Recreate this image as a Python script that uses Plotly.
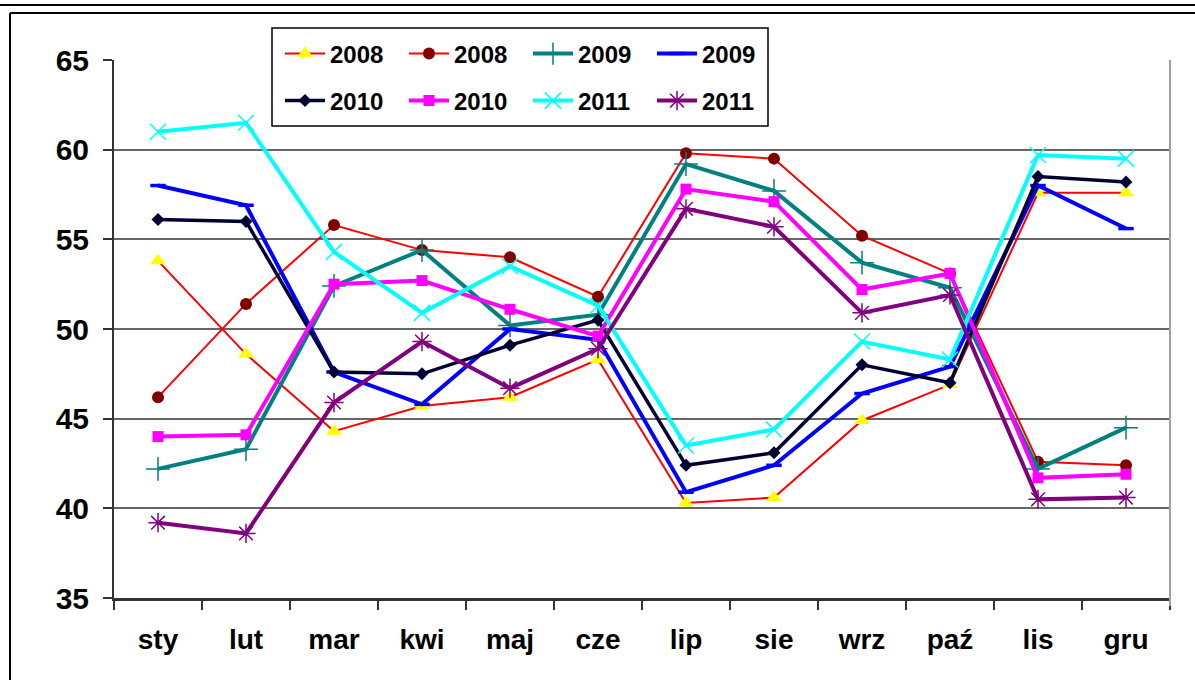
import plotly.graph_objects as go

months = ["sty", "lut", "mar", "kwi", "maj", "cze", "lip", "sie", "wrz", "paź", "lis", "gru"]

s2008_tri = [53.8, 48.6, 44.3, 45.7, 46.2, 48.3, 40.3, 40.6, 44.9, 46.9, 57.6, 57.6]
s2008_dot = [46.2, 51.4, 55.8, 54.4, 54.0, 51.8, 59.8, 59.5, 55.2, 53.1, 42.6, 42.4]
s2009_plus = [42.2, 43.3, 52.4, 54.4, 50.2, 50.8, 59.2, 57.7, 53.7, 52.3, 42.2, 44.5]
s2009_dash = [58.0, 56.9, 47.6, 45.8, 50.0, 49.4, 40.9, 42.4, 46.4, 47.9, 58.0, 55.6]
s2010_dia = [56.1, 56.0, 47.6, 47.5, 49.1, 50.5, 42.4, 43.1, 48.0, 47.0, 58.5, 58.2]
s2010_sq = [44.0, 44.1, 52.5, 52.7, 51.1, 49.6, 57.8, 57.1, 52.2, 53.1, 41.7, 41.9]
s2011_x = [61.0, 61.5, 54.3, 50.9, 53.5, 51.3, 43.5, 44.4, 49.3, 48.3, 59.7, 59.5]
s2011_ast = [39.2, 38.6, 45.9, 49.3, 46.7, 48.9, 56.7, 55.7, 50.9, 51.9, 40.5, 40.6]

labels = ["2008", "2008", "2009", "2009", "2010", "2010", "2011", "2011"]

series = [
    dict(y=s2008_tri, line=dict(color="#FF0000", width=2),
         marker=dict(symbol="triangle-up", color="#FFFF00", size=14, line=dict(width=0))),
    dict(y=s2008_dot, line=dict(color="#FF0000", width=2),
         marker=dict(symbol="circle", color="#800000", size=12, line=dict(width=0))),
    dict(y=s2009_plus, line=dict(color="#008080", width=4),
         marker=dict(symbol="cross-thin-open", color="#008080", size=17, line=dict(width=1.5, color="#008080"))),
    dict(y=s2009_dash, line=dict(color="#0000FF", width=4),
         marker=dict(symbol="line-ew-open", color="#0000FF", size=11, line=dict(width=3.5, color="#0000FF"))),
    dict(y=s2010_dia, line=dict(color="#000033", width=3.5),
         marker=dict(symbol="diamond", color="#000033", size=10, line=dict(width=0))),
    dict(y=s2010_sq, line=dict(color="#FF00FF", width=4),
         marker=dict(symbol="square", color="#FF00FF", size=11, line=dict(width=0))),
    dict(y=s2011_x, line=dict(color="#00FFFF", width=4),
         marker=dict(symbol="x-thin-open", color="#00FFFF", size=16, line=dict(width=1.5, color="#00FFFF"))),
    dict(y=s2011_ast, line=dict(color="#800080", width=4),
         marker=dict(symbol="asterisk-open", color="#800080", size=16, line=dict(width=1.5, color="#800080"))),
]

FONT = "Liberation Sans, Arial, sans-serif"

fig = go.Figure()
for i, (lab, s) in enumerate(zip(labels, series)):
    fig.add_trace(go.Scatter(
        x=months, y=s["y"], name=lab, mode="lines+markers",
        line=s["line"], marker=s["marker"],
        legend="legend" if i < 4 else "legend2",
    ))

W, H = 1195, 680
L, R, T, B = 114, 25, 60, 82
pw, ph = W - L - R, H - T - B


def px_x(px):
    return (px - L) / pw


def px_y(py):
    return (H - B - py) / ph


leg_common = dict(
    orientation="h", xref="container", yref="container",
    xanchor="left", yanchor="middle",
    font=dict(family=FONT, size=24, color="black", weight="bold"),
    bgcolor="rgba(0,0,0,0)", borderwidth=0, entrywidth=69, itemwidth=40,
    tracegroupgap=0,
)

shapes = [
    # legend box
    dict(type="rect", xref="paper", yref="paper",
         x0=px_x(272), x1=px_x(768), y0=px_y(126), y1=px_y(28),
         line=dict(color="black", width=1.5), fillcolor="white", layer="below"),
    # right plot border
    dict(type="line", xref="paper", yref="paper",
         x0=1, x1=1, y0=px_y(606), y1=1,
         line=dict(color="#A0A0A0", width=2)),
    # outer frame lines
    dict(type="line", xref="paper", yref="paper",
         x0=px_x(0), x1=px_x(1195), y0=px_y(5), y1=px_y(5),
         line=dict(color="black", width=2)),
    dict(type="line", xref="paper", yref="paper",
         x0=px_x(10), x1=px_x(1195), y0=px_y(13), y1=px_y(13),
         line=dict(color="black", width=2)),
    dict(type="line", xref="paper", yref="paper",
         x0=px_x(10), x1=px_x(10), y0=px_y(13), y1=px_y(680),
         line=dict(color="black", width=2)),
]

fig.update_layout(
    width=W, height=H, autosize=False,
    margin=dict(l=L, r=R, t=T, b=B, autoexpand=False),
    paper_bgcolor="white", plot_bgcolor="white",
    font=dict(family=FONT, color="black"),
    showlegend=True,
    legend=dict(x=280 / W, y=1 - 54 / H, **leg_common),
    legend2=dict(x=280 / W, y=1 - 101 / H, **leg_common),
    shapes=shapes,
    xaxis=dict(
        type="category", range=[-0.5, 11.5],
        tickson="boundaries", ticks="outside", ticklen=9, tickwidth=2, tickcolor="#333333",
        showgrid=False, showline=True, linecolor="#333333", linewidth=2.5,
        tickfont=dict(family=FONT, size=28, color="black", weight="bold"),
        ticklabelstandoff=15,
    ),
    yaxis=dict(
        range=[35, 65], dtick=5, tick0=35,
        ticks="outside", ticklen=9, tickwidth=2, tickcolor="#333333",
        showgrid=True, gridcolor="#666666", gridwidth=2,
        showline=True, linecolor="#333333", linewidth=2,
        zeroline=False,
        tickfont=dict(family=FONT, size=30, color="black", weight="bold"),
        ticklabelstandoff=8,
    ),
)

fig.write_html(
    "out.html",
    config={"displayModeBar": False},
    post_script="document.body.style.margin='0';document.body.style.overflow='hidden';",
)
